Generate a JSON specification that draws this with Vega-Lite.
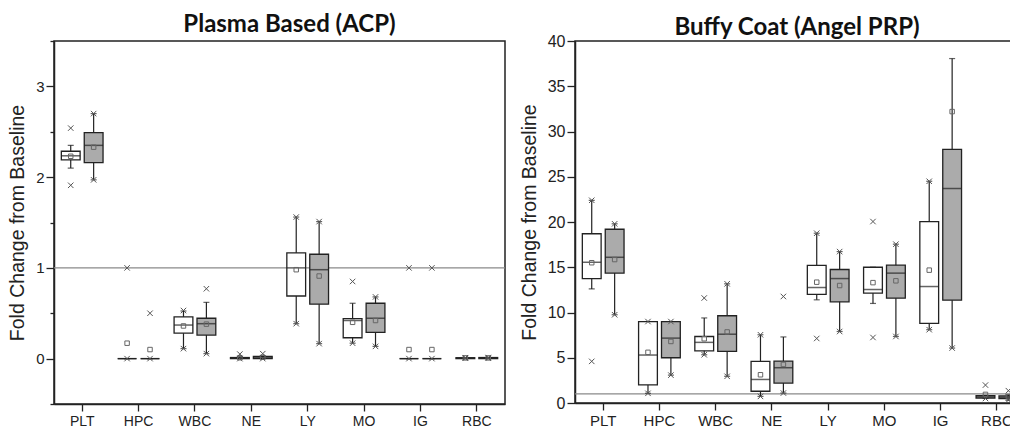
{
  "$schema": "https://vega.github.io/schema/vega-lite/v6.json",
  "background": "white",
  "padding": {"left": 6, "top": 12, "right": 0, "bottom": 0},
  "bounds": "flush",
  "spacing": 70,
  "config": {
    "view": {"stroke": "#222", "strokeWidth": 1.5},
    "axis": {"labelFont": "Liberation Sans", "titleFont": "Liberation Sans", "labelColor": "#222", "titleColor": "#222", "domainColor": "#222", "tickColor": "#222", "grid": false, "domainWidth": 1.5, "tickWidth": 1.3, "titleFontWeight": "normal"},
    "title": {"font": "Lato", "fontWeight": "bold", "fontSize": 24, "color": "#111", "anchor": "middle", "frame": "group"}
  },
  "datasets": {
    "boxes": [
      {"p": "L", "c": "PLT", "g": "A", "lo": 2.10, "q1": 2.19, "med": 2.235, "q3": 2.285, "hi": 2.35, "mean": 2.23},
      {"p": "L", "c": "PLT", "g": "B", "lo": 1.97, "q1": 2.16, "med": 2.35, "q3": 2.49, "hi": 2.70, "mean": 2.33},
      {"p": "L", "c": "HPC", "g": "A", "lo": 0, "q1": 0, "med": 0, "q3": 0, "hi": 0, "mean": 0.17},
      {"p": "L", "c": "HPC", "g": "B", "lo": 0, "q1": 0, "med": 0, "q3": 0, "hi": 0, "mean": 0.10},
      {"p": "L", "c": "WBC", "g": "A", "lo": 0.11, "q1": 0.28, "med": 0.37, "q3": 0.46, "hi": 0.525, "mean": 0.36},
      {"p": "L", "c": "WBC", "g": "B", "lo": 0.055, "q1": 0.26, "med": 0.385, "q3": 0.445, "hi": 0.62, "mean": 0.38},
      {"p": "L", "c": "NE", "g": "A", "lo": 0, "q1": 0, "med": 0.005, "q3": 0.012, "hi": 0.02, "mean": 0.01},
      {"p": "L", "c": "NE", "g": "B", "lo": 0, "q1": 0, "med": 0.01, "q3": 0.025, "hi": 0.03, "mean": 0.015},
      {"p": "L", "c": "LY", "g": "A", "lo": 0.385, "q1": 0.69, "med": 1.0, "q3": 1.165, "hi": 1.56, "mean": 0.98},
      {"p": "L", "c": "LY", "g": "B", "lo": 0.165, "q1": 0.60, "med": 0.98, "q3": 1.15, "hi": 1.51, "mean": 0.91},
      {"p": "L", "c": "MO", "g": "A", "lo": 0.17, "q1": 0.23, "med": 0.42, "q3": 0.44, "hi": 0.61, "mean": 0.40},
      {"p": "L", "c": "MO", "g": "B", "lo": 0.135, "q1": 0.29, "med": 0.445, "q3": 0.61, "hi": 0.68, "mean": 0.42},
      {"p": "L", "c": "IG", "g": "A", "lo": 0, "q1": 0, "med": 0, "q3": 0, "hi": 0, "mean": 0.10},
      {"p": "L", "c": "IG", "g": "B", "lo": 0, "q1": 0, "med": 0, "q3": 0, "hi": 0, "mean": 0.10},
      {"p": "L", "c": "RBC", "g": "A", "lo": 0, "q1": 0, "med": 0.005, "q3": 0.01, "hi": 0.01, "mean": 0.008},
      {"p": "L", "c": "RBC", "g": "B", "lo": 0, "q1": 0, "med": 0.005, "q3": 0.012, "hi": 0.012, "mean": 0.008},
      {"p": "R", "c": "PLT", "g": "A", "lo": 12.6, "q1": 13.75, "med": 15.55, "q3": 18.7, "hi": 22.4, "mean": 15.5},
      {"p": "R", "c": "PLT", "g": "B", "lo": 9.75, "q1": 14.35, "med": 16.1, "q3": 19.2, "hi": 19.8, "mean": 15.85},
      {"p": "R", "c": "HPC", "g": "A", "lo": 1.07, "q1": 2.0, "med": 5.3, "q3": 9.0, "hi": 9.0, "mean": 5.6},
      {"p": "R", "c": "HPC", "g": "B", "lo": 3.08, "q1": 5.0, "med": 7.17, "q3": 9.0, "hi": 9.0, "mean": 6.8},
      {"p": "R", "c": "WBC", "g": "A", "lo": 5.33, "q1": 5.77, "med": 6.7, "q3": 7.35, "hi": 9.4, "mean": 7.1},
      {"p": "R", "c": "WBC", "g": "B", "lo": 2.95, "q1": 5.7, "med": 7.6, "q3": 9.64, "hi": 13.17, "mean": 7.85},
      {"p": "R", "c": "NE", "g": "A", "lo": 0.73, "q1": 1.3, "med": 2.6, "q3": 4.6, "hi": 7.54, "mean": 3.12},
      {"p": "R", "c": "NE", "g": "B", "lo": 1.1, "q1": 2.2, "med": 3.9, "q3": 4.63, "hi": 7.3, "mean": 4.26},
      {"p": "R", "c": "LY", "g": "A", "lo": 11.4, "q1": 12.0, "med": 12.76, "q3": 15.2, "hi": 18.76, "mean": 13.35},
      {"p": "R", "c": "LY", "g": "B", "lo": 7.9, "q1": 11.18, "med": 13.75, "q3": 14.75, "hi": 16.73, "mean": 12.98},
      {"p": "R", "c": "MO", "g": "A", "lo": 11.0, "q1": 12.14, "med": 12.54, "q3": 15.0, "hi": 15.0, "mean": 13.3},
      {"p": "R", "c": "MO", "g": "B", "lo": 7.35, "q1": 11.58, "med": 14.35, "q3": 15.23, "hi": 17.55, "mean": 13.5},
      {"p": "R", "c": "IG", "g": "A", "lo": 8.1, "q1": 8.8, "med": 12.87, "q3": 20.05, "hi": 24.5, "mean": 14.68},
      {"p": "R", "c": "IG", "g": "B", "lo": 6.07, "q1": 11.36, "med": 23.7, "q3": 28.03, "hi": 38.06, "mean": 32.2},
      {"p": "R", "c": "RBC", "g": "A", "lo": 0.5, "q1": 0.55, "med": 0.68, "q3": 0.8, "hi": 0.85, "mean": 0.95},
      {"p": "R", "c": "RBC", "g": "B", "lo": 0.3, "q1": 0.5, "med": 0.65, "q3": 0.78, "hi": 0.9, "mean": 0.7}
    ],
    "pts": [
      {"p": "L", "c": "PLT", "g": "A", "v": 2.54}, {"p": "L", "c": "PLT", "g": "A", "v": 1.91},
      {"p": "L", "c": "PLT", "g": "B", "v": 2.70}, {"p": "L", "c": "PLT", "g": "B", "v": 1.97},
      {"p": "L", "c": "HPC", "g": "A", "v": 1.0}, {"p": "L", "c": "HPC", "g": "A", "v": 0},
      {"p": "L", "c": "HPC", "g": "B", "v": 0.5}, {"p": "L", "c": "HPC", "g": "B", "v": 0},
      {"p": "L", "c": "WBC", "g": "A", "v": 0.53}, {"p": "L", "c": "WBC", "g": "A", "v": 0.11},
      {"p": "L", "c": "WBC", "g": "B", "v": 0.77}, {"p": "L", "c": "WBC", "g": "B", "v": 0.055},
      {"p": "L", "c": "NE", "g": "A", "v": 0.05}, {"p": "L", "c": "NE", "g": "A", "v": 0},
      {"p": "L", "c": "NE", "g": "B", "v": 0.055}, {"p": "L", "c": "NE", "g": "B", "v": 0},
      {"p": "L", "c": "LY", "g": "A", "v": 1.56}, {"p": "L", "c": "LY", "g": "A", "v": 0.385},
      {"p": "L", "c": "LY", "g": "B", "v": 1.51}, {"p": "L", "c": "LY", "g": "B", "v": 0.165},
      {"p": "L", "c": "MO", "g": "A", "v": 0.85}, {"p": "L", "c": "MO", "g": "A", "v": 0.17},
      {"p": "L", "c": "MO", "g": "B", "v": 0.68}, {"p": "L", "c": "MO", "g": "B", "v": 0.135},
      {"p": "L", "c": "IG", "g": "A", "v": 1.0}, {"p": "L", "c": "IG", "g": "A", "v": 0},
      {"p": "L", "c": "IG", "g": "B", "v": 1.0}, {"p": "L", "c": "IG", "g": "B", "v": 0},
      {"p": "L", "c": "RBC", "g": "A", "v": 0.01}, {"p": "L", "c": "RBC", "g": "A", "v": 0.005},
      {"p": "L", "c": "RBC", "g": "B", "v": 0.012}, {"p": "L", "c": "RBC", "g": "B", "v": 0.005},
      {"p": "R", "c": "PLT", "g": "A", "v": 22.4}, {"p": "R", "c": "PLT", "g": "A", "v": 4.6},
      {"p": "R", "c": "PLT", "g": "B", "v": 19.8}, {"p": "R", "c": "PLT", "g": "B", "v": 9.75},
      {"p": "R", "c": "HPC", "g": "A", "v": 9.0}, {"p": "R", "c": "HPC", "g": "A", "v": 1.07},
      {"p": "R", "c": "HPC", "g": "B", "v": 9.0}, {"p": "R", "c": "HPC", "g": "B", "v": 3.08},
      {"p": "R", "c": "WBC", "g": "A", "v": 11.6}, {"p": "R", "c": "WBC", "g": "A", "v": 5.33},
      {"p": "R", "c": "WBC", "g": "B", "v": 13.17}, {"p": "R", "c": "WBC", "g": "B", "v": 2.95},
      {"p": "R", "c": "NE", "g": "A", "v": 7.54}, {"p": "R", "c": "NE", "g": "A", "v": 0.73},
      {"p": "R", "c": "NE", "g": "B", "v": 11.77}, {"p": "R", "c": "NE", "g": "B", "v": 1.1},
      {"p": "R", "c": "LY", "g": "A", "v": 18.76}, {"p": "R", "c": "LY", "g": "A", "v": 7.13},
      {"p": "R", "c": "LY", "g": "B", "v": 16.73}, {"p": "R", "c": "LY", "g": "B", "v": 7.9},
      {"p": "R", "c": "MO", "g": "A", "v": 20.05}, {"p": "R", "c": "MO", "g": "A", "v": 7.24},
      {"p": "R", "c": "MO", "g": "B", "v": 17.55}, {"p": "R", "c": "MO", "g": "B", "v": 7.35},
      {"p": "R", "c": "IG", "g": "A", "v": 24.5}, {"p": "R", "c": "IG", "g": "A", "v": 8.1},
      {"p": "R", "c": "IG", "g": "B", "v": 6.07},
      {"p": "R", "c": "RBC", "g": "A", "v": 1.98}, {"p": "R", "c": "RBC", "g": "A", "v": 0.5},
      {"p": "R", "c": "RBC", "g": "B", "v": 1.36}, {"p": "R", "c": "RBC", "g": "B", "v": 0.33}
    ],
    "ref": [{"y": 1}]
  },
  "hconcat": [
    {
      "width": 451,
      "height": 363,
      "title": {"text": "Plasma Based (ACP)", "offset": -3, "dx": 10},
      "layer": [
        {
          "data": {"name": "ref"},
          "mark": {"type": "rule", "color": "#8a8a8a", "strokeWidth": 1.3},
          "encoding": {
            "y": {"field": "y", "type": "quantitative", "title": "Fold Change from Baseline", "scale": {"domain": [-0.5, 3.5], "nice": false, "zero": false},
              "axis": {"title": "Fold Change from Baseline", "titleFontSize": 19.5, "labelFontSize": 15, "titlePadding": 8, "labelOverlap": false, "tickSize": {"condition": {"test": "slice(format(datum.value, '.1f'), -1) !== '0'", "value": 4}, "value": 8}, "values": [-0.5, 0, 0.5, 1, 1.5, 2, 2.5, 3, 3.5], "format": ".1f", "labelExpr": "slice(datum.label, -1) === '0' ? slice(datum.label, 0, -2) : ''", "labelPadding": 2}}
          }
        },
        {
          "data": {"name": "boxes"},
          "transform": [{"filter": "datum.p === 'L'"}],
          "layer": [
            {
              "mark": {"type": "rule", "color": "#222", "strokeWidth": 1.2},
              "encoding": {
                "x": {"field": "c", "type": "nominal", "title": null, "scale": {"domain": ["PLT", "HPC", "WBC", "NE", "LY", "MO", "IG", "RBC"], "paddingInner": 0, "paddingOuter": 0},
                  "axis": {"title": null, "labelAngle": 0, "labelFontSize": 14, "tickSize": 7, "labelPadding": 3}},
                "xOffset": {"field": "g", "scale": {"domain": ["A", "B"], "paddingInner": 0.18, "paddingOuter": 0.32}},
                "y": {"field": "lo", "type": "quantitative", "title": "Fold Change from Baseline"},
                "y2": {"field": "hi"}
              }
            },
            {
              "mark": {"type": "tick", "orient": "horizontal", "color": "#222", "size": 6, "thickness": 1.2},
              "encoding": {
                "x": {"field": "c", "type": "nominal", "title": null},
                "xOffset": {"field": "g"},
                "y": {"field": "lo", "type": "quantitative", "title": "Fold Change from Baseline"}
              }
            },
            {
              "mark": {"type": "tick", "orient": "horizontal", "color": "#222", "size": 6, "thickness": 1.2},
              "encoding": {
                "x": {"field": "c", "type": "nominal", "title": null},
                "xOffset": {"field": "g"},
                "y": {"field": "hi", "type": "quantitative", "title": "Fold Change from Baseline"}
              }
            },
            {
              "mark": {"type": "bar", "stroke": "#222", "strokeWidth": 1.3},
              "encoding": {
                "x": {"field": "c", "type": "nominal", "title": null},
                "xOffset": {"field": "g"},
                "y": {"field": "q1", "type": "quantitative", "title": "Fold Change from Baseline"},
                "y2": {"field": "q3"},
                "fill": {"field": "g", "type": "nominal", "scale": {"domain": ["A", "B"], "range": ["#ffffff", "#ababab"]}, "legend": null}
              }
            },
            {
              "mark": {"type": "tick", "orient": "horizontal", "color": "#222", "size": 18.8, "thickness": 1.5},
              "encoding": {
                "x": {"field": "c", "type": "nominal", "title": null},
                "xOffset": {"field": "g"},
                "y": {"field": "med", "type": "quantitative", "title": "Fold Change from Baseline"}
              }
            },
            {
              "mark": {"type": "point", "shape": "square", "filled": false, "stroke": "#666", "strokeWidth": 1, "size": 20, "opacity": 1},
              "encoding": {
                "x": {"field": "c", "type": "nominal", "title": null},
                "xOffset": {"field": "g"},
                "y": {"field": "mean", "type": "quantitative", "title": "Fold Change from Baseline"}
              }
            }
          ]
        },
        {
          "data": {"name": "pts"},
          "transform": [{"filter": "datum.p === 'L'"}],
          "mark": {"type": "point", "shape": "M-1,-1L1,1M1,-1L-1,1", "filled": false, "stroke": "#555", "strokeWidth": 1, "size": 30, "opacity": 1},
          "encoding": {
            "x": {"field": "c", "type": "nominal", "title": null},
            "xOffset": {"field": "g"},
            "y": {"field": "v", "type": "quantitative", "title": "Fold Change from Baseline"}
          }
        }
      ]
    },
    {
      "width": 450,
      "height": 362,
      "title": {"text": "Buffy Coat (Angel PRP)", "offset": -6.5, "dx": -3},
      "layer": [
        {
          "data": {"name": "ref"},
          "mark": {"type": "rule", "color": "#8a8a8a", "strokeWidth": 1.3},
          "encoding": {
            "y": {"field": "y", "type": "quantitative", "title": "Fold Change from Baseline", "scale": {"domain": [0, 40], "nice": false, "zero": false},
              "axis": {"title": "Fold Change from Baseline", "titleFontSize": 19.5, "labelFontSize": 16, "titlePadding": 8, "labelOverlap": false, "tickSize": {"condition": {"test": "datum.value % 5 !== 0", "value": 4}, "value": 8}, "values": [0, 2.5, 5, 7.5, 10, 12.5, 15, 17.5, 20, 22.5, 25, 27.5, 30, 32.5, 35, 37.5, 40], "format": "d", "labelExpr": "datum.value % 5 === 0 ? datum.label : ''", "labelPadding": 2}}
          }
        },
        {
          "data": {"name": "boxes"},
          "transform": [{"filter": "datum.p === 'R'"}],
          "layer": [
            {
              "mark": {"type": "rule", "color": "#222", "strokeWidth": 1.2},
              "encoding": {
                "x": {"field": "c", "type": "nominal", "title": null, "scale": {"domain": ["PLT", "HPC", "WBC", "NE", "LY", "MO", "IG", "RBC"], "paddingInner": 0, "paddingOuter": 0},
                  "axis": {"title": null, "labelAngle": 0, "labelFontSize": 15, "tickSize": 7, "labelPadding": 3}},
                "xOffset": {"field": "g", "scale": {"domain": ["A", "B"], "paddingInner": 0.18, "paddingOuter": 0.32}},
                "y": {"field": "lo", "type": "quantitative", "title": "Fold Change from Baseline"},
                "y2": {"field": "hi"}
              }
            },
            {
              "mark": {"type": "tick", "orient": "horizontal", "color": "#222", "size": 6, "thickness": 1.2},
              "encoding": {
                "x": {"field": "c", "type": "nominal", "title": null},
                "xOffset": {"field": "g"},
                "y": {"field": "lo", "type": "quantitative", "title": "Fold Change from Baseline"}
              }
            },
            {
              "mark": {"type": "tick", "orient": "horizontal", "color": "#222", "size": 6, "thickness": 1.2},
              "encoding": {
                "x": {"field": "c", "type": "nominal", "title": null},
                "xOffset": {"field": "g"},
                "y": {"field": "hi", "type": "quantitative", "title": "Fold Change from Baseline"}
              }
            },
            {
              "mark": {"type": "bar", "stroke": "#222", "strokeWidth": 1.3},
              "encoding": {
                "x": {"field": "c", "type": "nominal", "title": null},
                "xOffset": {"field": "g"},
                "y": {"field": "q1", "type": "quantitative", "title": "Fold Change from Baseline"},
                "y2": {"field": "q3"},
                "fill": {"field": "g", "type": "nominal", "scale": {"domain": ["A", "B"], "range": ["#ffffff", "#ababab"]}, "legend": null}
              }
            },
            {
              "mark": {"type": "tick", "orient": "horizontal", "color": "#222", "size": 18.8, "thickness": 1.5},
              "encoding": {
                "x": {"field": "c", "type": "nominal", "title": null},
                "xOffset": {"field": "g"},
                "y": {"field": "med", "type": "quantitative", "title": "Fold Change from Baseline"}
              }
            },
            {
              "mark": {"type": "point", "shape": "square", "filled": false, "stroke": "#666", "strokeWidth": 1, "size": 20, "opacity": 1},
              "encoding": {
                "x": {"field": "c", "type": "nominal", "title": null},
                "xOffset": {"field": "g"},
                "y": {"field": "mean", "type": "quantitative", "title": "Fold Change from Baseline"}
              }
            }
          ]
        },
        {
          "data": {"name": "pts"},
          "transform": [{"filter": "datum.p === 'R'"}],
          "mark": {"type": "point", "shape": "M-1,-1L1,1M1,-1L-1,1", "filled": false, "stroke": "#555", "strokeWidth": 1, "size": 30, "opacity": 1},
          "encoding": {
            "x": {"field": "c", "type": "nominal", "title": null},
            "xOffset": {"field": "g"},
            "y": {"field": "v", "type": "quantitative", "title": "Fold Change from Baseline"}
          }
        }
      ]
    }
  ]
}
